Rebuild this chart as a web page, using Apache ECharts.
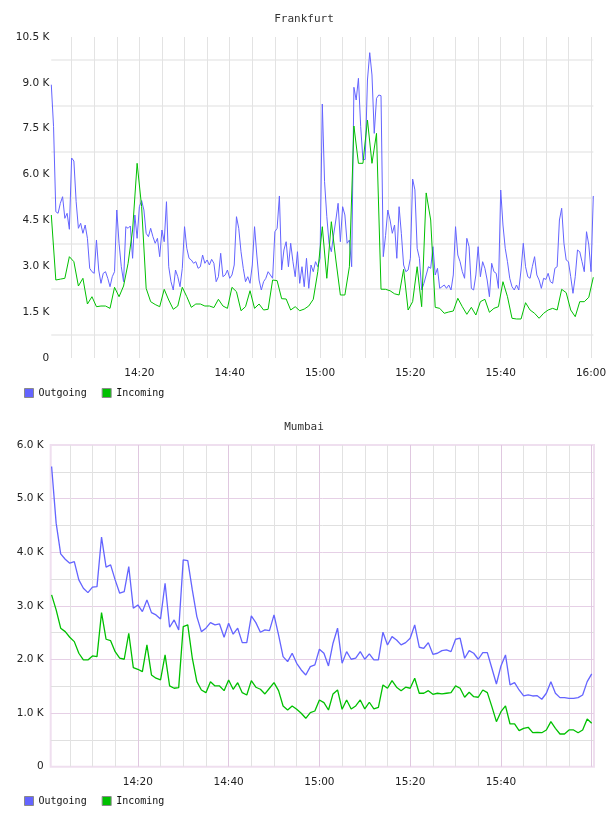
<!DOCTYPE html>
<html lang="en">
  <head>
    <meta charset="UTF-8" />
    <meta name="viewport" content="width=device-width, initial-scale=1.0" />
    <title>Traffic</title>
    <script src="https://cdn.jsdelivr.net/npm/echarts@6.0.0/dist/echarts.min.js"></script>
    <style>
      body { margin: 0; background: #fff; }
      .chart { width: 608px; height: 408px; }
    </style>
  </head>
  <body>
    <div id="frankfurt" class="chart"></div>
    <div id="mumbai" class="chart"></div>

    <script>
      // x values are minutes after 14:00
      const seriesNames = ["Outgoing", "Incoming"];
      const tickMinutes = [20, 40, 60, 80, 100, 120];
      const tickLabels = ["14:20", "14:40", "15:00", "15:20", "15:40", "16:00"];

      // Frankfurt: outgoing every 30 s, incoming every minute, from 14:00:30
      const frankfurtStart = 0.5;
      const frankfurtOutStep = 0.5;
      const frankfurtInStep = 1;
      const frankfurtOutgoing = [
        8940, 7566, 4786, 4733, 5060, 5276, 4569, 4733, 4210, 6542,
        6444, 5113, 4243, 4406, 4079, 4350, 3915, 2934, 2823, 2770,
        3860, 2878, 2443, 2770, 2823, 2607, 2332, 2659, 2823, 4841,
        3752, 2986, 2496, 4295, 4243, 4318, 3261, 4678, 3915, 4949,
        5150, 4841, 4079, 3968, 4243, 3968, 3752, 3915, 3314, 4187,
        3804, 5113, 2986, 2496, 2224, 2878, 2659, 2332, 2934, 4295,
        3588, 3261, 3206, 3098, 3150, 2934,
        2986, 3369, 3098, 3206, 3042, 3228, 3098, 2496, 2659, 3425,
        2659, 2715, 2878, 2607, 2715, 3042, 4622, 4243, 3477, 2934,
        2496, 2659, 2443, 3042, 4295, 3369, 2551, 2224, 2496, 2607,
        2823, 2715, 2607, 4131, 4243, 5300, 2878, 3533, 3804, 2986,
        3752, 3150, 2659, 3477, 2443, 2986, 2332, 3261, 2280, 3042,
        2823, 3150, 2986, 3261, 8308, 5767, 4622, 3752, 3477, 4023,
        4514, 5060, 3804, 4949, 4678, 3752, 3860, 2986, 8855, 8439,
        9149, 7566, 6477, 6499, 9093, 9987, 9257, 7348, 8494, 8603,
        8580, 3314, 4000, 4841, 4514, 4079, 4350, 3261, 4949,
        4079, 3042, 2823, 2878, 3261, 5855, 5500, 3588, 3261, 2224,
        2443, 2715, 2986, 2934, 3641, 2715, 2934, 2278, 2332, 2388,
        2278, 2388, 2224, 2715, 4295, 3369, 3150, 2823, 2607, 3915,
        3641, 2278, 2224, 2715, 3641, 2659, 3150, 2934, 2551, 2005,
        3098, 2823, 2770, 2278, 5495, 4350, 3588, 3150, 2607, 2332,
        2224, 2388, 2224, 2878, 3752, 2986, 2659, 2607, 2986, 3314,
        2715, 2551, 2278, 2607, 2570, 2770, 2496, 2443, 2934, 2986,
        4514, 4897, 3752, 3206, 3150, 2659, 2116, 2659, 3533, 3477,
        3150, 2823, 4131, 3700, 2823, 5300
      ];
      const frankfurtIncoming = [
        4678, 2551, 2580, 2607, 3314, 3150, 2355, 2607, 1766, 2005,
        1678, 1700, 1700, 1624, 2312, 2005, 2355, 3098, 4187, 6368,
        4949, 2280, 1842, 1750, 1678, 2247, 1897, 1593, 1700, 2312,
        2005, 1658, 1766, 1766, 1700, 1701, 1650, 1920, 1701, 1624,
        2312, 2169, 1547, 1678, 2201, 1624, 1766, 1570, 1593, 2551,
        2530, 1940, 1930, 1570, 1678, 1547, 1600, 1701, 1920, 2823,
        4295, 2607, 4458, 3206, 2061, 2061, 2986, 7589, 6368, 6368,
        7785, 6368, 7348, 2250, 2247, 2200, 2100, 2061, 2900, 1570,
        1842, 2986, 1678, 5400, 4514, 1658, 1624, 1462, 1505, 1537,
        1953, 1678, 1429, 1658, 1406, 1842, 1920, 1495, 1624, 1678,
        2496, 2005, 1299, 1276, 1276, 1809, 1570, 1462, 1299, 1462,
        1570, 1624, 1570, 2247, 2136, 1570, 1351, 1842, 1842, 1986,
        2640
      ];

      // Mumbai: both series every minute, from 14:01
      const mumbaiStart = 1;
      const mumbaiStep = 1;
      const mumbaiOutgoing = [
        5598, 4542, 3969, 3870, 3795, 3825, 3484, 3329, 3247, 3348,
        3359, 4281, 3721, 3764, 3484, 3236, 3266, 3732, 2956, 3017,
        2892, 3111, 2874, 2831, 2756, 3422, 2601, 2737, 2551, 3857,
        3844, 3297, 2800, 2519, 2583, 2687, 2644, 2663, 2415, 2676,
        2471, 2583, 2314, 2314, 2812, 2687, 2508, 2551, 2538, 2831,
        2458, 2053, 1959, 2116, 1929, 1804, 1711, 1866, 1898, 2191,
        2116, 1879, 2303, 2583, 1929, 2146, 2004, 2023, 2146, 2004,
        2103, 1991, 1991, 2508, 2271, 2426, 2364, 2271, 2314, 2396,
        2644, 2228, 2209, 2314, 2097, 2116, 2165, 2178, 2146, 2377,
        2396, 2023, 2165, 2116, 2004, 2127, 2127, 1836, 1543, 1879,
        2084, 1525, 1567, 1431, 1319, 1338, 1319, 1325, 1258, 1370,
        1586, 1370, 1288, 1288, 1276, 1276, 1288, 1338, 1586, 1730
      ];
      const mumbaiIncoming = [
        3204, 2924, 2583, 2519, 2415, 2333, 2116, 1991, 1991, 2066,
        2053, 2874, 2377, 2351, 2146, 2023, 2004, 2489, 1847, 1817,
        1773, 2271, 1711, 1650, 1618, 2084, 1506, 1463, 1474, 2612,
        2644, 2023, 1586, 1431, 1381, 1586, 1506, 1506, 1418, 1618,
        1444, 1567, 1381, 1338, 1605, 1482, 1444, 1357, 1463, 1567,
        1418, 1133, 1058, 1133, 1071, 996, 903, 1008, 1039, 1245,
        1194, 1058, 1357, 1431, 1071, 1245, 1077, 1133, 1245, 1077,
        1202, 1077, 1108, 1525, 1463, 1605, 1482, 1418, 1482, 1463,
        1650, 1370, 1370, 1418, 1351, 1370, 1357, 1370, 1381, 1506,
        1463, 1295, 1388, 1306, 1295, 1431, 1381, 1120, 840, 1026,
        1133, 797, 797, 672, 716, 735, 634, 641, 634, 685,
        840, 716, 610, 610, 685, 685, 634, 685, 890, 810
      ];

      const colors = ["#6464ff", "#00c000"];

      function withTimes(values, start, step) {
        return values.map((v, i) => [start + i * step, v]);
      }

      function kLabel(v) {
        return v === 0 ? "0" : (v / 1000).toFixed(1) + " K";
      }

      function timeLabel(lastTick) {
        return function (v) {
          const i = tickMinutes.indexOf(v);
          if (i < 0 || v > lastTick) return "";
          return tickLabels[i];
        };
      }

      function buildOption(cfg) {
        const labelFont = { fontFamily: "DejaVu Sans", fontSize: 10.5, color: "#222" };
        return {
          animation: false,
          title: {
            text: cfg.title,
            left: "center",
            top: 14,
            padding: 0,
            textStyle: {
              fontFamily: "DejaVu Sans Mono",
              fontSize: 11,
              fontWeight: "normal",
              color: "#333"
            }
          },
          legend: {
            data: seriesNames,
            left: 24,
            top: 388,
            padding: 0,
            icon: "rect",
            itemWidth: 9,
            itemHeight: 9,
            itemGap: 15,
            itemStyle: { borderColor: "#8a8a8a", borderWidth: 1 },
            textStyle: { fontFamily: "DejaVu Sans Mono", fontSize: 10, color: "#111" }
          },
          grid: Object.assign(
            { top: 37, bottom: 50, containLabel: false, outerBoundsMode: "none" },
            cfg.grid
          ),
          xAxis: {
            type: "value",
            min: cfg.xMin,
            max: cfg.xMax,
            splitNumber: 6,
            axisLine: { show: false },
            axisTick: { show: false },
            axisLabel: Object.assign({ margin: 10, formatter: timeLabel(cfg.lastTick) }, labelFont),
            splitLine: {
              show: true,
              showMinLine: false,
              showMaxLine: false,
              lineStyle: { color: cfg.xMajor, width: 1 }
            },
            minorTick: { show: false, splitNumber: 4 },
            minorSplitLine: { show: true, lineStyle: { color: cfg.xMinor, width: 1 } }
          },
          yAxis: {
            type: "value",
            min: 0,
            max: cfg.yMax,
            interval: cfg.yStep,
            axisLine: { show: false },
            axisTick: { show: false },
            axisLabel: Object.assign({ margin: cfg.yMargin, formatter: kLabel }, labelFont),
            splitLine: {
              show: cfg.yMajor !== null,
              showMinLine: false,
              showMaxLine: false,
              lineStyle: { color: cfg.yMajor || "#fff", width: 1 }
            },
            minorTick: { show: false, splitNumber: 2 },
            minorSplitLine: { show: true, lineStyle: { color: cfg.yMinor, width: cfg.yMinorWidth } }
          },
          series: [
            {
              name: seriesNames[0],
              type: "line",
              data: cfg.outgoing,
              showSymbol: false,
              color: colors[0],
              lineStyle: { width: cfg.lineWidth, color: colors[0] }
            },
            {
              name: seriesNames[1],
              type: "line",
              data: cfg.incoming,
              showSymbol: false,
              color: colors[1],
              lineStyle: { width: cfg.lineWidth, color: colors[1] }
            }
          ]
        };
      }

      const frankfurt = echarts.init(document.getElementById("frankfurt"));
      frankfurt.setOption(
        buildOption({
          title: "Frankfurt",
          grid: { left: 51.3, right: 14.7 },
          xMin: 0.5,
          xMax: 120.5,
          lastTick: 120,
          xMajor: "#e3e3e3",
          xMinor: "#e3e3e3",
          yMax: 10500,
          yStep: 1500,
          yMargin: 2,
          yMajor: null,
          yMinor: "#efefef",
          yMinorWidth: 2,
          lineWidth: 1,
          outgoing: withTimes(frankfurtOutgoing, frankfurtStart, frankfurtOutStep),
          incoming: withTimes(frankfurtIncoming, frankfurtStart, frankfurtInStep)
        })
      );

      const mumbai = echarts.init(document.getElementById("mumbai"));
      mumbai.setOption(
        buildOption({
          title: "Mumbai",
          grid: {
            left: 50.7,
            right: 14,
            bottom: 49.3,
            show: true,
            borderColor: "#efdfef",
            borderWidth: 2
          },
          xMin: 0.8,
          xMax: 120.5,
          lastTick: 100,
          xMajor: "#e0c8e0",
          xMinor: "#e2e2e2",
          yMax: 6000,
          yStep: 1000,
          yMargin: 7,
          yMajor: "#e6d0e6",
          yMinor: "#e0e0e0",
          yMinorWidth: 1,
          lineWidth: 1.3,
          outgoing: withTimes(mumbaiOutgoing, mumbaiStart, mumbaiStep),
          incoming: withTimes(mumbaiIncoming, mumbaiStart, mumbaiStep)
        })
      );
    </script>
  </body>
</html>
